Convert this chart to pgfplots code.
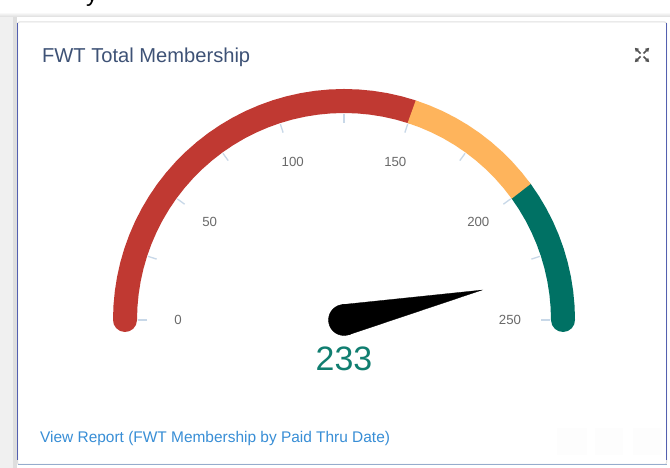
\documentclass[border=0pt]{standalone}
\usepackage{fontspec}
\setmainfont{Liberation Sans}
\usepackage{pgfplots}
\pgfplotsset{compat=1.18}
\usepackage{pgfplotstable}
\usetikzlibrary{arrows.meta}

\definecolor{gred}{RGB}{192,57,50}
\definecolor{gorange}{RGB}{254,180,92}
\definecolor{gteal}{RGB}{0,113,100}
\definecolor{valteal}{RGB}{16,126,112}
\definecolor{tickc}{RGB}{200,216,232}
\definecolor{labgray}{RGB}{105,105,105}
\definecolor{titlec}{RGB}{62,82,118}
\definecolor{linkc}{RGB}{56,142,214}
\definecolor{cardedge}{RGB}{150,172,205}

% gauge bands: v = gauge value, r = radius (bp)
\pgfplotstableread{
v r
0 219
5 219
10 219
15 219
20 219
25 219
30 219
35 219
40 219
45 219
50 219
55 219
60 219
65 219
70 219
75 219
80 219
85 219
90 219
95 219
100 219
105 219
110 219
115 219
120 219
125 219
130 219
135 219
140 219
145 219
150 219
}\bandred
\pgfplotstableread{
v r
150 219
155 219
160 219
165 219
170 219
175 219
180 219
185 219
190 219
195 219
200 219
}\bandorange
\pgfplotstableread{
v r
200 219
205 219
210 219
215 219
220 219
225 219
230 219
235 219
240 219
245 219
250 219
}\bandteal
\pgfplotstableread{
v r lab
0 166 0
50 166 50
100 166 100
150 166 150
200 166 200
250 166 250
}\ticklabs
% needle: tip at value 233
\pgfplotstableread{
v r
233 141
116.5 15.5
349.6 15.5
}\needle

\begin{document}
\begin{tikzpicture}[x=1bp,y=1bp]
\useasboundingbox (0,0) rectangle (670,468);
% page background and card shadow
\fill[white] (0,0) rectangle (670,468);
\fill[gray!8] (0,0) rectangle (670,456);
\shade[top color=white, bottom color=gray!38] (0,449) rectangle (670,456);
\fill[white] (4,0) rectangle (670,451);
\fill[gray!12] (0,0) rectangle (17,451);
\fill[gray!26] (13,0) rectangle (17,451);
% cut-off text at top
\begin{scope}
\clip (0,458) rectangle (670,468);
\node[anchor=base west, inner sep=0pt, font=\fontsize{24}{24}\selectfont] at (86,466) {y};
\end{scope}
% card
\filldraw[fill=white, draw=gray!25, line width=1bp, rounded corners=2bp] (17.5,3.5) rectangle (666.5,446);
\draw[draw=cardedge, line width=1.2bp] (17.5,3.5) -- (666.5,3.5);
\draw[draw=cardedge!70!blue!80!black, line width=1.2bp] (17.8,8) -- (17.8,445);
\draw[draw=cardedge!70!blue!80!black, line width=1.2bp] (666.3,8) -- (666.3,445);
% faint buttons bottom right
\fill[gray!1.5] (557,13) rectangle (587,40);
\fill[gray!1.5] (595,13) rectangle (623,40);
\fill[gray!1.5] (633,13) rectangle (662,40);
% title and link
\node[anchor=base west, inner sep=0pt, text=titlec, font=\fontsize{20.2}{24}\selectfont] at (42,405) {FWT Total Membership};
\node[anchor=base west, inner sep=0pt, text=linkc, font=\fontsize{15.5}{18}\selectfont] at (40,25) {View Report (FWT Membership by Paid Thru Date)};
% expand icon
\begin{scope}[shift={(642,413)}, gray!65!black, line width=1.6bp, -{Triangle[length=3.8bp,width=4.4bp]}]
\draw (1.5,1.5) -- (7.2,7.2);
\draw (-1.5,1.5) -- (-7.2,7.2);
\draw (1.5,-1.5) -- (7.2,-7.2);
\draw (-1.5,-1.5) -- (-7.2,-7.2);
\end{scope}

\begin{axis}[
  at={(0,0)}, anchor=south west, scale only axis,
  x=1bp, y=1bp, xmin=-344, xmax=326, ymin=-148, ymax=320,
  hide axis, clip=false,
]
% bands
\addplot[draw=gred, line width=24bp, line cap=round, data cs=polar, mark=none]
  table[x expr={180-0.72*\thisrow{v}}, y=r] {\bandred};
\addplot[draw=gteal, line width=24bp, line cap=round, data cs=polar, mark=none]
  table[x expr={180-0.72*\thisrow{v}}, y=r] {\bandteal};
\addplot[draw=gorange, line width=24bp, line cap=butt, data cs=polar, mark=none]
  table[x expr={180-0.72*\thisrow{v}}, y=r] {\bandorange};
% minor tick marks every 25
\pgfplotsinvokeforeach{0,25,50,75,100,125,150,175,200,225,250}{
  \addplot[draw=tickc, line width=1.3bp, data cs=polar, mark=none]
    table[x expr={180-0.72*\thisrow{v}}, y=r, row sep=\\] {v r\\ #1 197\\ #1 206\\};
}
% tick labels
\addplot[only marks, mark=*, mark size=0pt, mark options={draw=none, fill=none},
  data cs=polar, nodes near coords, point meta=explicit symbolic,
  every node near coord/.style={anchor=center, inner sep=0pt, text=labgray,
    font=\fontsize{13.3}{13}\selectfont}]
  table[x expr={180-0.72*\thisrow{v}}, y=r, meta=lab] {\ticklabs};
% needle
\addplot[fill=black, draw=black, line width=0.3bp, data cs=polar, mark=none]
  table[x expr={180-0.72*\thisrow{v}}, y=r] {\needle} -- cycle;
\addplot[only marks, mark=*, mark size=15.5bp, mark options={fill=black, draw=black}]
  coordinates {(0,0)};
% value
\addplot[only marks, mark=*, mark size=0pt, mark options={draw=none, fill=none},
  nodes near coords, point meta=explicit symbolic,
  every node near coord/.style={anchor=base, inner sep=0pt, text=valteal,
    font=\fontsize{34}{34}\selectfont}]
  coordinates {(0,-51) [233]};
\end{axis}
\end{tikzpicture}
\end{document}
